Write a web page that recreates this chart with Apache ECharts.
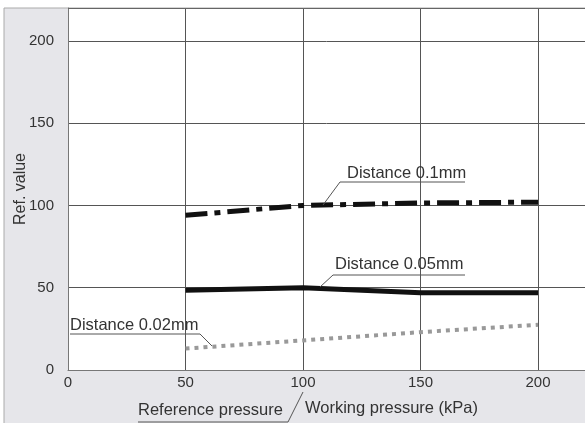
<!DOCTYPE html>
<html>
<head>
<meta charset="utf-8">
<script src="https://cdn.jsdelivr.net/npm/echarts@6/dist/echarts.min.js"></script>
<style>html,body{margin:0;padding:0;background:#fff}#c{width:585px;height:423px}</style>
</head>
<body>
<div id="c"></div>
<script>
const pressures = [50, 100, 150, 200];
const dist01 = [94, 100, 101.5, 102];
const dist005 = [48.5, 50, 47, 47];
const dist002 = [13, 18, 23, 27.5];
const xTicks = [0, 50, 100, 150, 200];
const yTicks = [0, 50, 100, 150, 200];

const font = 'Liberation Sans, Arial, sans-serif';
const chart = echarts.init(document.getElementById('c'), null, {renderer: 'canvas'});

function pairs(vals) { return pressures.map((p, i) => [p, vals[i]]); }

const txt = (x, y, s) => ({type: 'text', z: 10,
  style: {x: x, y: y, text: s, fontSize: 16.5, fontFamily: font, fill: '#333',
    verticalAlign: 'middle', align: 'left'}});
const ln = (pts) => ({type: 'polyline', z: 10, shape: {points: pts},
  style: {stroke: '#555', lineWidth: 1, fill: null}});

chart.setOption({
  animation: false,
  backgroundColor: '#fff',
  grid: {left: 68, top: 8, right: 0, bottom: 53, show: true, backgroundColor: '#fff',
    borderWidth: 0, containLabel: false, outerBoundsMode: 'none'},
  xAxis: {type: 'value', min: 0, max: 220, interval: 50,
    axisLine: {show: true, lineStyle: {color: '#777', width: 1}},
    axisTick: {show: false},
    splitLine: {show: true, showMaxLine: false, lineStyle: {color: '#555', width: 1}},
    axisLabel: {color: '#333', fontSize: 15, fontFamily: font, margin: 5,
      formatter: v => xTicks.includes(v) ? String(v) : ''}},
  yAxis: {type: 'value', min: 0, max: 220, interval: 50,
    name: 'Ref. value', nameLocation: 'middle', nameGap: 39, nameRotate: 90,
    nameMoveOverlap: false,
    nameTextStyle: {color: '#333', fontSize: 16, fontFamily: font},
    axisLine: {show: true, lineStyle: {color: '#777', width: 1}},
    axisTick: {show: false},
    splitLine: {show: true, lineStyle: {color: '#555', width: 1}},
    axisLabel: {color: '#333', fontSize: 15, fontFamily: font, margin: 14,
      formatter: v => yTicks.includes(v) ? String(v) : ''}},
  series: [
    {type: 'line', name: 'Distance 0.1mm', data: pairs(dist01), symbol: 'none', z: 5,
      lineStyle: {color: '#111', width: 5, type: [22, 7, 6, 7], cap: 'butt'}},
    {type: 'line', name: 'Distance 0.05mm', data: pairs(dist005), symbol: 'none', z: 5,
      lineStyle: {color: '#111', width: 5, type: 'solid'}},
    {type: 'line', name: 'Distance 0.02mm', data: pairs(dist002), symbol: 'none', z: 5,
      lineStyle: {color: '#999', width: 4, type: [4, 5], cap: 'butt'}}
  ],
  graphic: [
    {type: 'rect', z: -10, silent: true, shape: {x: 4, y: 8, width: 590, height: 420},
      style: {fill: '#e6e6ea', stroke: '#aaa', lineWidth: 1}},
    {type: 'line', z: 10, shape: {x1: 68, y1: 8.5, x2: 590, y2: 8.5},
      style: {stroke: '#666', lineWidth: 1}},
    txt(347, 173, 'Distance 0.1mm'),
    ln([[340, 182], [465, 182]]),
    ln([[340, 182], [323, 205]]),
    txt(335, 264, 'Distance 0.05mm'),
    ln([[333, 275], [465, 275]]),
    ln([[333, 275], [320, 287]]),
    txt(70, 325, 'Distance 0.02mm'),
    ln([[70, 334], [200, 334]]),
    ln([[200, 334], [212, 346]]),
    txt(138, 410, 'Reference pressure'),
    ln([[138, 422], [288, 422]]),
    ln([[288, 422], [303, 392]]),
    txt(305, 408, 'Working pressure (kPa)')
  ]
});
</script>
</body>
</html>
